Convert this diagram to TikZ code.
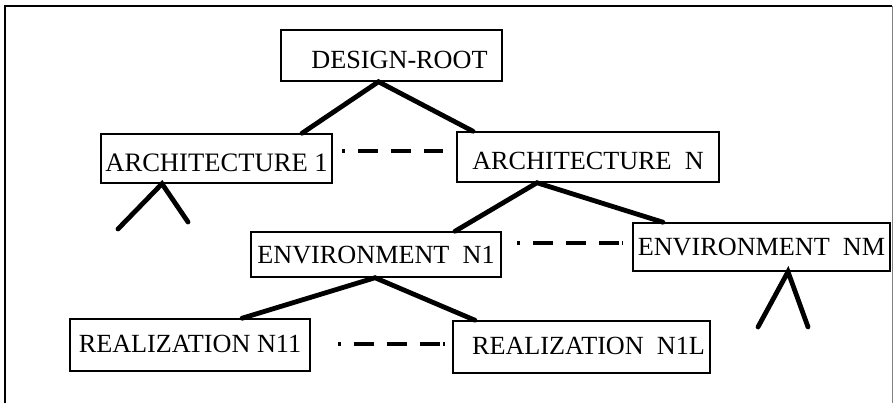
\documentclass[tikz,border=0pt]{standalone}
\usepackage{fontspec}
\setmainfont{Liberation Serif}
\begin{document}
\begin{tikzpicture}[x=1pt,y=-1pt,
  box/.style={draw,line width=1.5pt,inner sep=0pt,font=\fontsize{26.2}{28}\selectfont,text height=17.3pt,text depth=0pt},
  lowtext/.style={text height=25.3pt,text depth=0pt},
  hightext/.style={text height=17.3pt,text depth=3pt},
  edge/.style={line width=4.8pt,line cap=round},
  dashline/.style={line width=3.2pt,dash pattern=on 3pt off 13pt on 20pt off 13pt on 20pt off 13pt on 20pt}]
\useasboundingbox (0,0) rectangle (893,403);
\draw[line width=1.6pt] (5,403) -- (5,6) -- (892,6);
\draw[line width=0.8pt,gray] (892,6) -- (892,403);

\node[box,lowtext,minimum width=221pt,minimum height=51pt] (root) at (391.5,55.5) {\hspace{16pt}DESIGN-ROOT};
\node[box,lowtext,minimum width=231pt,minimum height=49pt,font=\fontsize{26.6}{29}\selectfont] (a1) at (216.5,158.5) {ARCHITECTURE 1\hspace{9pt}};
\node[box,lowtext,minimum width=262pt,minimum height=50pt] (aN) at (588,157) {ARCHITECTURE\ \ N};
\node[box,minimum width=250pt,minimum height=45pt] (e1) at (376,254.5) {ENVIRONMENT\ \ N1\hspace{4pt}};
\node[box,minimum width=257pt,minimum height=48pt] (eM) at (761.5,247) {ENVIRONMENT\ \ NM};
\node[box,hightext,minimum width=240pt,minimum height=52pt] (r1) at (190,345) {REALIZATION N11\hspace{12pt}};
\node[box,hightext,minimum width=257pt,minimum height=52pt] (rL) at (581.5,347) {\hspace{14pt}REALIZATION\ \ N1L};

\draw[edge] ([xshift=85.5pt]a1.north) -- ([xshift=-13pt]root.south) -- ([xshift=-115pt]aN.north);
\draw[edge] ([xshift=79pt]e1.north) -- ([xshift=-51pt]aN.south) -- ([xshift=-98.5pt]eM.north);
\draw[edge] ([xshift=52pt]r1.north) -- ([xshift=-1pt]e1.south) -- ([xshift=-106.5pt]rL.north);

\coordinate (s1) at (118,229);
\coordinate (s2) at (188,222);
\draw[edge] (s1) -- ([xshift=-54.5pt]a1.south) -- (s2);
\coordinate (s3) at (758,327);
\coordinate (s4) at (808,327);
\draw[edge] (s3) -- ([xshift=26.5pt]eM.south) -- (s4);

\coordinate (d1a) at (342,151);
\coordinate (d1b) at (443,151);
\draw[dashline] (d1a) -- (d1b);
\coordinate (d2a) at (517,243);
\coordinate (d2b) at (623,243);
\draw[dashline] (d2a) -- (d2b);
\coordinate (d3a) at (338,344);
\coordinate (d3b) at (445,344);
\draw[dashline] (d3a) -- (d3b);
\end{tikzpicture}
\end{document}
